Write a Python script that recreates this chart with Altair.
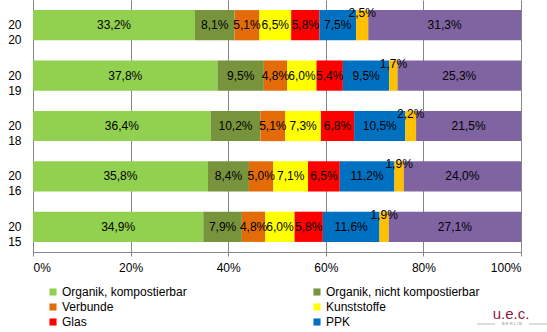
import altair as alt
import pandas as pd

years = ["2020", "2019", "2018", "2016", "2015"]
categories = ["Organik, kompostierbar", "Organik, nicht kompostierbar", "Verbunde",
              "Kunststoffe", "Glas", "PPK", "Metalle", "Sonstige"]
colors = ["#92D050", "#77933C", "#E36C09", "#FFFF00", "#FF0000", "#0070C0", "#FFC000", "#8064A2"]
values = {
    "2020": [33.2, 8.1, 5.1, 6.5, 5.8, 7.5, 2.5, 31.3],
    "2019": [37.8, 9.5, 4.8, 6.0, 5.4, 9.5, 1.7, 25.3],
    "2018": [36.4, 10.2, 5.1, 7.3, 6.8, 10.5, 2.2, 21.5],
    "2016": [35.8, 8.4, 5.0, 7.1, 6.5, 11.2, 1.9, 24.0],
    "2015": [34.9, 7.9, 4.8, 6.0, 5.8, 11.6, 1.9, 27.1],
}

rows = []
for y in years:
    for i, c in enumerate(categories):
        rows.append({"year": y, "cat": c, "idx": i, "value": values[y][i]})
df = pd.DataFrame(rows)

FONT = "Liberation Sans"

base = alt.Chart(df).transform_stack(
    stack="value", groupby=["year"], as_=["x0", "x1"], offset="normalize",
    sort=[alt.SortField("idx", order="ascending")]
).transform_calculate(
    mid="(datum.x0 + datum.x1) / 2",
    lbl="replace(format(datum.value, '.1f'), '.', ',') + '%'"
)

yenc = alt.Y("year:N", sort=years, title=None,
             scale=alt.Scale(paddingInner=0.4, paddingOuter=0.2),
             axis=alt.Axis(labelExpr="[substring(datum.label,0,2), substring(datum.label,2,4)]",
                           ticks=False, labelPadding=12, labelLineHeight=15,
                           labelFontSize=12, labelColor="#000000", labelFont=FONT,
                           domainColor="#868686", grid=False))

bars = base.mark_bar(strokeWidth=0).encode(
    x=alt.X("x0:Q", scale=alt.Scale(domain=[0, 1], nice=False), title=None,
            axis=alt.Axis(format="%", values=[0, 0.2, 0.4, 0.6, 0.8, 1.0],
                          grid=True, gridColor="#868686", domainColor="#868686",
                          tickColor="#868686", tickSize=4, labelFontSize=12,
                          labelColor="#000000", labelFont=FONT, labelPadding=6)),
    x2="x1:Q",
    y=yenc,
    color=alt.Color("cat:N", scale=alt.Scale(domain=categories, range=colors),
                    legend=alt.Legend(values=categories[:6], title=None, orient="none",
                                      direction="horizontal",
                                      legendX=14, legendY=286, columns=2, columnPadding=124,
                                      symbolType="square", symbolSize=50, symbolStrokeWidth=0,
                                      labelFontSize=12, labelFont=FONT, labelColor="#000000",
                                      rowPadding=3, symbolOffset=0, labelOffset=3)),
    order=alt.Order("idx:Q"),
)

txt = base.transform_filter("datum.idx != 6").mark_text(
    fontSize=12, font=FONT, color="#000000"
).encode(x="mid:Q", y=alt.Y("year:N", sort=years), text="lbl:N")

txt_small = base.transform_filter("datum.idx == 6").mark_text(
    fontSize=12, font=FONT, color="#000000", dy=-12
).encode(x="mid:Q", y=alt.Y("year:N", sort=years), text="lbl:N")

logo = alt.Chart(pd.DataFrame({"t": ["u.e.c."]})).mark_text(
    fontSize=15, font=FONT, color="#8B1C3F", align="center", baseline="middle").encode(
    x=alt.value(478), y=alt.value(314), text="t:N")
berlin = alt.Chart(pd.DataFrame({"t": ["B E R L I N"]})).mark_text(
    fontSize=4, font=FONT, color="#888888", align="center", baseline="middle").encode(
    x=alt.value(479), y=alt.value(324), text="t:N")
line_l = alt.Chart(pd.DataFrame({"a": [0]})).mark_rule(color="#BBBBBB", strokeWidth=1).encode(
    x=alt.value(444), x2=alt.value(462), y=alt.value(324))
line_r = alt.Chart(pd.DataFrame({"a": [0]})).mark_rule(color="#BBBBBB", strokeWidth=1).encode(
    x=alt.value(496), x2=alt.value(514), y=alt.value(324))

chart = alt.layer(bars, txt, txt_small, line_l, line_r, berlin, logo).properties(
    width=488, height=252,
    autosize=alt.AutoSizeParams(type="none"),
    padding={"left": 33, "top": 0, "right": 26, "bottom": 80},
).configure_view(stroke=None).configure_axis(labelFont=FONT)

chart.save("out.html", embed_options={"renderer": "svg", "actions": False})
